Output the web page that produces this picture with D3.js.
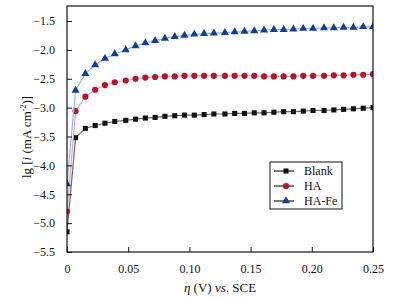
<!DOCTYPE html>
<html>
<head>
<meta charset="utf-8">
<script src="https://cdn.jsdelivr.net/npm/d3@7"></script>
<style>
  body { margin: 0; background: #fff; }
  svg { display: block; }
  svg text { font-family: "Liberation Serif", serif; }
</style>
</head>
<body>
<svg id="drawing_region"></svg>
<script>
// potential (V vs. SCE)
const eta = [0, 0.007, 0.015, 0.023, 0.031, 0.039, 0.048, 0.056, 0.064, 0.072, 0.080,
    0.088, 0.096, 0.104, 0.112, 0.120, 0.129, 0.137, 0.145, 0.153, 0.161,
    0.169, 0.177, 0.185, 0.193, 0.201, 0.210, 0.218, 0.226, 0.234, 0.242, 0.250];
const blank = [-5.15, -3.52, -3.36, -3.31, -3.27, -3.24, -3.22, -3.20, -3.18, -3.17, -3.15,
    -3.14, -3.13, -3.13, -3.12, -3.11, -3.11, -3.10, -3.10, -3.09, -3.09,
    -3.08, -3.07, -3.07, -3.06, -3.05, -3.05, -3.04, -3.03, -3.02, -3.01, -3.00];
const ha = [-4.80, -3.06, -2.81, -2.69, -2.61, -2.56, -2.53, -2.50, -2.48, -2.47, -2.46,
    -2.46, -2.45, -2.45, -2.45, -2.45, -2.45, -2.45, -2.45, -2.45, -2.46,
    -2.46, -2.46, -2.46, -2.45, -2.45, -2.45, -2.44, -2.44, -2.43, -2.43, -2.42];
const haFe = [-4.32, -2.70, -2.41, -2.26, -2.15, -2.07, -2.00, -1.93, -1.88, -1.84, -1.80,
    -1.77, -1.75, -1.73, -1.72, -1.71, -1.70, -1.69, -1.68, -1.67, -1.66,
    -1.65, -1.65, -1.64, -1.63, -1.63, -1.62, -1.62, -1.61, -1.61, -1.60, -1.60];
const seriesNames = ['Blank', 'HA', 'HA-Fe'];
const xTicks = [0, 0.05, 0.10, 0.15, 0.20, 0.25];
const yTicks = [-5.5, -5.0, -4.5, -4.0, -3.5, -3.0, -2.5, -2.0, -1.5];

const W = 405, H = 300;
const margin = {top: 6, right: 32, bottom: 48, left: 67};
const iw = W - margin.left - margin.right;
const ih = H - margin.top - margin.bottom;
const serif = '"Liberation Serif", serif';

const svg = d3.select('#drawing_region').attr('width', W).attr('height', H);
const g = svg.append('g').attr('transform', `translate(${margin.left},${margin.top})`);

svg.append('clipPath').attr('id', 'plotclip')
    .append('rect').attr('width', iw).attr('height', ih);

const x = d3.scaleLinear().domain([0, 0.25]).range([0, iw]);
const y = d3.scaleLinear().domain([-5.5, -1.24]).range([ih, 0]);

const series = [
    {name: seriesNames[0], values: blank, mark: '#111', line: '#666', sym: d3.symbolSquare, size: 26},
    {name: seriesNames[1], values: ha, mark: '#b3162b', line: '#e6a3ad', sym: d3.symbolCircle, size: 30},
    {name: seriesNames[2], values: haFe, mark: '#123d91', line: '#8db8e6', sym: d3.symbolTriangle, size: 28}
];

// lines and markers, clipped to the frame
const plot = g.append('g').attr('clip-path', 'url(#plotclip)');
const line = d3.line().x(d => x(d[0])).y(d => y(d[1]));
series.forEach(s => {
    const pts = eta.map((e, i) => [e, s.values[i]]);
    plot.append('path').datum(pts)
        .attr('d', line)
        .attr('fill', 'none')
        .attr('stroke', s.line)
        .attr('stroke-width', 1.2);
    plot.selectAll(null).data(pts).enter().append('path')
        .attr('transform', d => `translate(${x(d[0])},${y(d[1])})`)
        .attr('d', d3.symbol().type(s.sym).size(s.size))
        .attr('fill', s.mark);
});

// axes with inward ticks
const xMinor = d3.range(0, 0.2501, 0.025);
const yMinor = d3.range(-5.5, -1.24, 0.25);

const xAxis = g.append('g').attr('transform', `translate(0,${ih})`);
xAxis.call(d3.axisBottom(x).tickValues(xMinor).tickSize(-3).tickFormat(''));
xAxis.call(d3.axisBottom(x).tickValues(xTicks).tickSize(-5).tickPadding(12)
    .tickFormat(d => d === 0 ? '0' : d3.format('.2f')(d)));

const yAxis = g.append('g');
yAxis.call(d3.axisLeft(y).tickValues(yMinor).tickSize(-3).tickFormat(''));
yAxis.call(d3.axisLeft(y).tickValues(yTicks).tickSize(-5).tickPadding(12).tickFormat(d3.format('.1f')));

g.selectAll('.domain').remove();
g.selectAll('.tick line').attr('stroke', '#111').attr('stroke-width', 1);
xAxis.attr('font-family', serif);
yAxis.attr('font-family', serif);
g.selectAll('.tick text').attr('font-size', 12).attr('fill', '#111');

g.append('rect').attr('width', iw).attr('height', ih)
    .attr('fill', 'none').attr('stroke', '#111').attr('stroke-width', 1.2);

// axis titles
const xt = svg.append('text').attr('x', 220).attr('y', 292)
    .attr('text-anchor', 'middle').attr('font-size', 13).attr('fill', '#111');
xt.append('tspan').attr('font-style', 'italic').text('η');
xt.append('tspan').text(' (V) ');
xt.append('tspan').attr('font-style', 'italic').text('vs');
xt.append('tspan').text('. SCE');

const yt = svg.append('text')
    .attr('transform', 'translate(31,137) rotate(-90)')
    .attr('text-anchor', 'middle').attr('font-size', 13).attr('fill', '#111');
yt.append('tspan').text('lg [');
yt.append('tspan').attr('font-style', 'italic').text('i');
yt.append('tspan').text(' (mA cm');
yt.append('tspan').attr('font-size', 8).attr('dy', -5).text('-2');
yt.append('tspan').attr('dy', 5).text(')]');

// legend
const lg = svg.append('g').attr('transform', 'translate(270,162)');
lg.append('rect').attr('width', 72).attr('height', 47)
    .attr('fill', '#fff').attr('stroke', '#111').attr('stroke-width', 1);
series.forEach((s, i) => {
    const ly = 9 + i * 15;
    lg.append('line').attr('x1', 4).attr('x2', 24).attr('y1', ly).attr('y2', ly)
        .attr('stroke', '#222').attr('stroke-width', 1.2);
    lg.append('path').attr('transform', `translate(16,${ly})`)
        .attr('d', d3.symbol().type(s.sym).size(s.size)).attr('fill', s.mark);
    lg.append('text').attr('x', 34).attr('y', ly + 4)
        .attr('font-size', 12).attr('fill', '#111').text(s.name);
});
</script>
</body>
</html>
